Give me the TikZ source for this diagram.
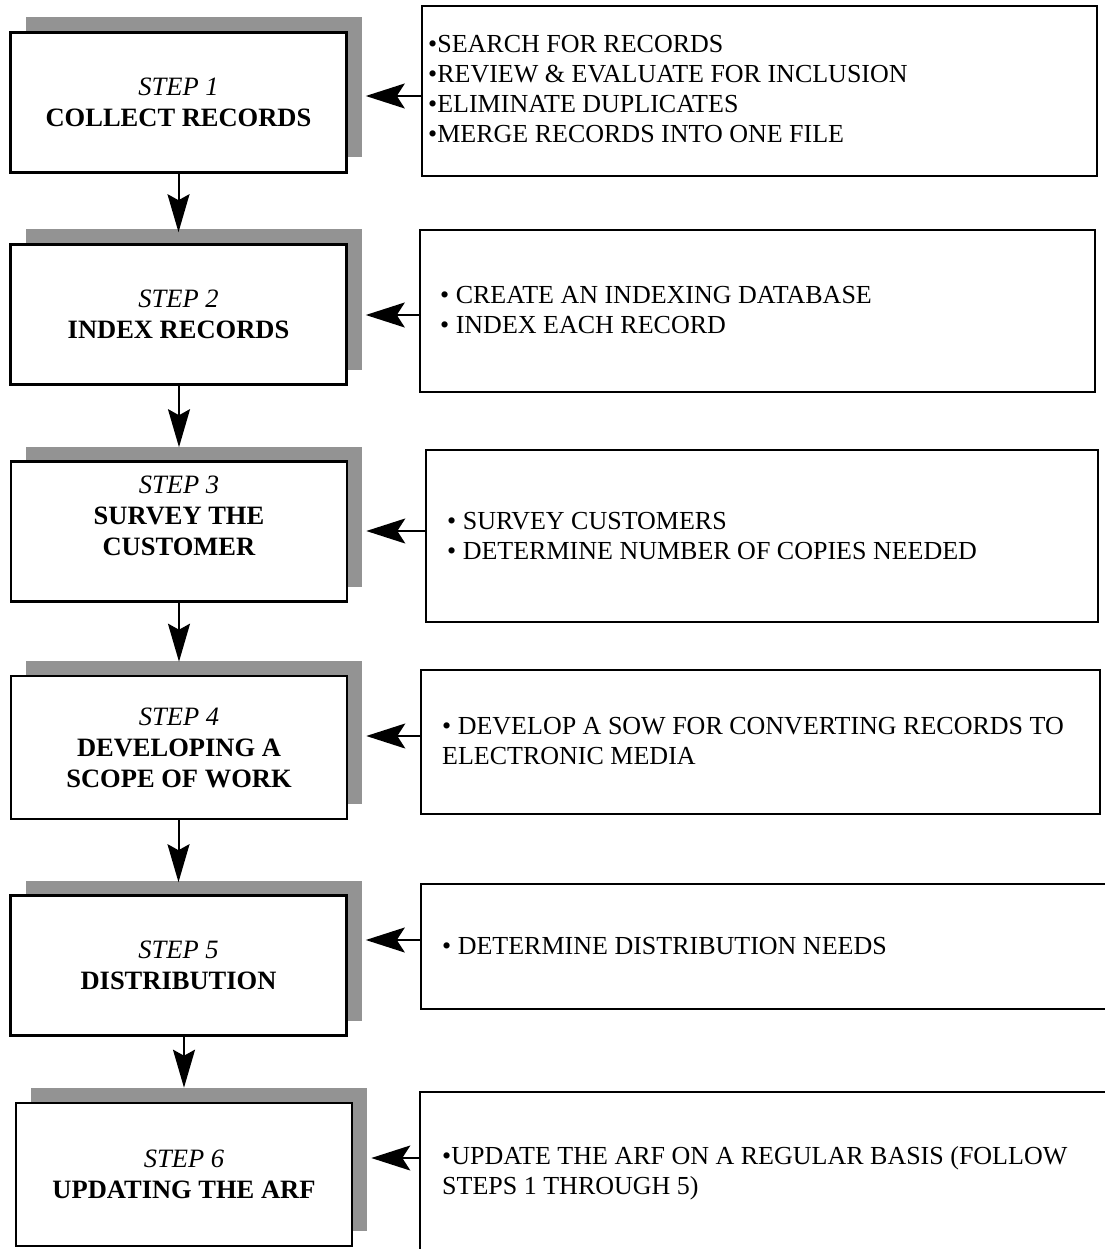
\documentclass[tikz,border=0pt]{standalone}
\usepackage{fontspec}
\setmainfont{Liberation Serif}
\usetikzlibrary{arrows.meta,calc,shadows}
\definecolor{shadowgray}{HTML}{939393}
\begin{document}
\begin{tikzpicture}[x=1pt,y=-1pt,
  stepbox/.style={draw=black, line width=2.6pt, fill=white, inner sep=0pt, align=center,
     minimum width=336pt, minimum height=140pt,
     font=\fontsize{26.5}{31}\selectfont,
     general shadow={shadow xshift=15pt, shadow yshift=15pt, fill=shadowgray, draw=none}},
  infobox/.style={draw=black, line width=2pt, inner sep=0pt},
  infotext/.style={anchor=base west, inner sep=0pt, align=left, font=\fontsize{26}{30}\selectfont},
  harr/.style={line width=2pt, -{Stealth[length=39pt,width=25pt,inset=8pt]}},
  varr/.style={line width=2pt, -{Stealth[length=38pt,width=22pt,inset=6pt]}},
]
\useasboundingbox (0,0) rectangle (1104,1249);

% step boxes
\node[stepbox] (s1) at (178.5,102.5) {\textit{STEP 1}\\\textbf{COLLECT RECORDS}};
\node[stepbox] (s2) at (178.5,314.5) {\textit{STEP 2}\\\textbf{INDEX RECORDS}};
\node[stepbox] (s3) at (179,531.5) {\textit{STEP 3}\\\textbf{SURVEY THE}\\\textbf{CUSTOMER}\\\mbox{}};
\node[stepbox, minimum height=143pt] (s4) at (179,747.5) {\textit{STEP 4}\\\textbf{DEVELOPING A}\\\textbf{SCOPE OF WORK}};
\node[stepbox] (s5) at (178.5,965.5) {\textit{STEP 5}\\\textbf{DISTRIBUTION}};
\node[stepbox, minimum height=143pt] (s6) at (184,1174.5) {\textit{STEP 6}\\\textbf{UPDATING THE ARF}};

% info boxes
\node[infobox, minimum width=675pt, minimum height=170pt] (r1) at (759.5,91) {};
\node[infobox, minimum width=675pt, minimum height=162pt] (r2) at (757.5,311) {};
\node[infobox, minimum width=672pt, minimum height=172pt] (r3) at (762,536) {};
\node[infobox, minimum width=679pt, minimum height=144pt] (r4) at (760.5,742) {};
\node[infobox, minimum width=694pt, minimum height=125pt] (r5) at (768,946.5) {};
\node[infobox, minimum width=695pt, minimum height=173pt] (r6) at (767.5,1178.5) {};

% info texts (anchored at the baseline of their last line)
\node[infotext] (t1) at (428,143) {•SEARCH FOR RECORDS\\•REVIEW \& EVALUATE FOR INCLUSION\\•ELIMINATE DUPLICATES\\•MERGE RECORDS INTO ONE FILE};
\node[infotext] (t2) at (440,333) {• CREATE AN INDEXING DATABASE\\• INDEX EACH RECORD};
\node[infotext] (t3) at (447,559) {• SURVEY CUSTOMERS\\• DETERMINE NUMBER OF COPIES NEEDED};
\node[infotext] (t4) at (442,764) {• DEVELOP A SOW FOR CONVERTING RECORDS TO\\ELECTRONIC MEDIA};
\node[infotext] (t5) at (442,954) {• DETERMINE DISTRIBUTION NEEDS};
\node[infotext] (t6) at (442,1194) {•UPDATE THE ARF ON A REGULAR BASIS (FOLLOW\\STEPS 1 THROUGH 5)};

% arrow levels
\coordinate (y1) at (0,96);
\coordinate (y2) at (0,315);
\coordinate (y3) at (0,531);
\coordinate (y4) at (0,736);
\coordinate (y5) at (0,940);
\coordinate (y6) at (0,1158);

% horizontal arrows
\draw[harr] (r1.west |- y1) -- ($(s1.east |- y1)+(18,0)$);
\draw[harr] (r2.west |- y2) -- ($(s2.east |- y2)+(18,0)$);
\draw[harr] (r3.west |- y3) -- ($(s3.east |- y3)+(18,0)$);
\draw[harr] (r4.west |- y4) -- ($(s4.east |- y4)+(18,0)$);
\draw[harr] (r5.west |- y5) -- ($(s5.east |- y5)+(18,0)$);
\draw[harr] (r6.west |- y6) -- ($(s6.east |- y6)+(18,0)$);

% vertical arrows
\draw[varr] (s2.north |- s1.south) -- ($(s2.north)+(0,-11)$);
\draw[varr] (s3.north |- s2.south) -- ($(s3.north)+(0,-13)$);
\draw[varr] (s4.north |- s3.south) -- ($(s4.north)+(0,-13)$);
\draw[varr] (s5.north |- s4.south) -- ($(s5.north)+(0,-12)$);
\draw[varr] (s6.north |- s5.south) -- ($(s6.north)+(0,-14)$);
\end{tikzpicture}
\end{document}
